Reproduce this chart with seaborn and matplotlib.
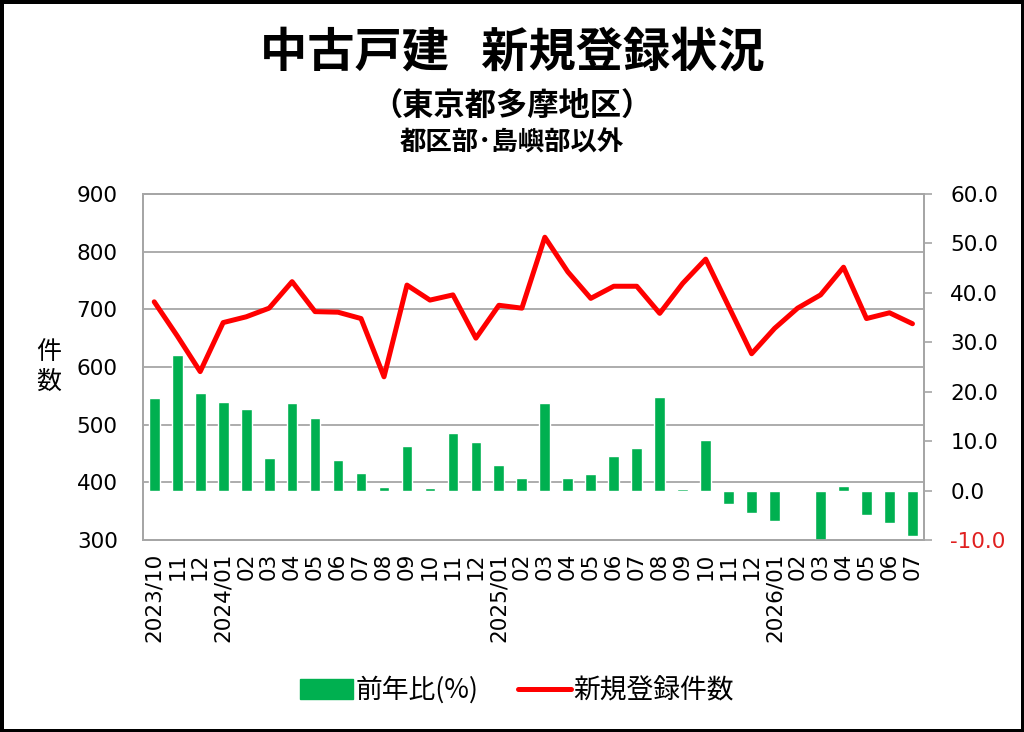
import numpy as np
import matplotlib
matplotlib.use("Agg")
import matplotlib.pyplot as plt
from matplotlib.patches import Patch
from matplotlib.lines import Line2D
import seaborn as sns

# 月ラベル (2023/10 - 2026/07)
months = ["2023/10", "11", "12",
          "2024/01", "02", "03", "04", "05", "06", "07", "08", "09", "10", "11", "12",
          "2025/01", "02", "03", "04", "05", "06", "07", "08", "09", "10", "11", "12",
          "2026/01", "02", "03", "04", "05", "06", "07"]

# 新規登録件数 (左軸)
counts = [713, 654, 592, 677, 687, 702, 748, 696, 695, 684, 583, 742, 716, 725,
          650, 707, 702, 825, 765, 719, 740, 740, 693, 745, 787, 705, 623, 667,
          702, 725, 773, 684, 694, 675]

# 前年比(%) (右軸)
yoy = [18.7, 27.5, 19.8, 18.0, 16.5, 6.5, 17.7, 14.7, 6.2, 3.6, 0.7, 9.0, 0.5,
       11.6, 9.9, 5.1, 2.6, 17.7, 2.6, 3.3, 6.9, 8.6, 18.9, 0.3, 10.2, -2.7,
       -4.5, -6.1, 0.0, -10.4, 0.9, -4.9, -6.5, -9.1]

left_ticks = [300, 400, 500, 600, 700, 800, 900]
right_ticks = [-10, 0, 10, 20, 30, 40, 50, 60]

green = "#00B050"
red = "#FF0000"
grid_c = "#A6A6A6"

sns.set_style("white")
plt.rcParams['font.family'] = ['Noto Sans CJK JP', 'DejaVu Sans']
plt.rcParams['text.color'] = 'black'
num_font = ['DejaVu Sans']

fig = plt.figure(figsize=(10.24, 7.32), dpi=100)
ax = fig.add_axes([0.1394, 0.2623, 0.7629, 0.4727])
ax2 = ax.twinx()

pos = np.arange(len(months))

# bars on the right-hand axis
sns.barplot(x=pos, y=yoy, ax=ax2, color=green, width=0.47, saturation=1)
# line on the left-hand axis
sns.lineplot(x=pos, y=counts, ax=ax, color=red, linewidth=3.6, zorder=5)

ax.set_xlim(-0.5, len(months) - 0.5)
ax.set_ylim(300, 900)
ax.set_yticks(left_ticks)
ax.set_yticklabels([str(v) for v in left_ticks], fontsize=15.5, family=num_font,
                   color='black')
ax.yaxis.grid(True, color=grid_c, linewidth=1.3)
ax.set_axisbelow(True)
ax.tick_params(axis='y', length=0, pad=18)

ax2.set_ylim(-10, 60)
ax2.set_yticks(right_ticks)
ax2.set_yticklabels([f"{v:.1f}" for v in right_ticks], fontsize=15.5,
                    family=num_font, color='black')
ax2.get_yticklabels()[0].set_color("#E02020")
ax2.tick_params(axis='y', length=6, width=1.2, color=grid_c, pad=13)
ax2.set_ylabel("")

ax.set_xticks(pos)
ax.set_xticklabels(months, rotation=90, fontsize=15.5, va='top', ha='center',
                   family=num_font, color='black')
ax.tick_params(axis='x', length=0, pad=9)
ax2.tick_params(axis='x', length=0)

for a in (ax, ax2):
    for s in a.spines.values():
        s.set_color(grid_c)
        s.set_linewidth(1.3)

ax.set_ylabel("件\n数", rotation=0, fontsize=18, labelpad=20, va='center',
              linespacing=1.15, color='black')

# titles
fig.text(0.5, 0.928, "中古戸建   新規登録状況", ha='center', va='center',
         fontsize=34, fontweight='bold', color='black')
fig.text(0.5, 0.856, "（東京都多摩地区）", ha='center', va='center',
         fontsize=22.5, fontweight='bold', color='black')
fig.text(0.5, 0.804, "都区部･島嶼部以外", ha='center', va='center',
         fontsize=19, fontweight='bold', color='black')

handles = [Patch(facecolor=green, edgecolor=green),
           Line2D([0], [0], color=red, linewidth=3.6)]
fig.legend(handles, ["前年比(%)", "新規登録件数"], loc='center',
           bbox_to_anchor=(0.505, 0.057), ncol=2, frameon=False, fontsize=19.3,
           handlelength=1.95, handleheight=0.75, handletextpad=0.1,
           columnspacing=1.5)

fig.patch.set_edgecolor('black')
fig.patch.set_linewidth(5)

fig.savefig("out.png", dpi=100, edgecolor=fig.get_edgecolor())
